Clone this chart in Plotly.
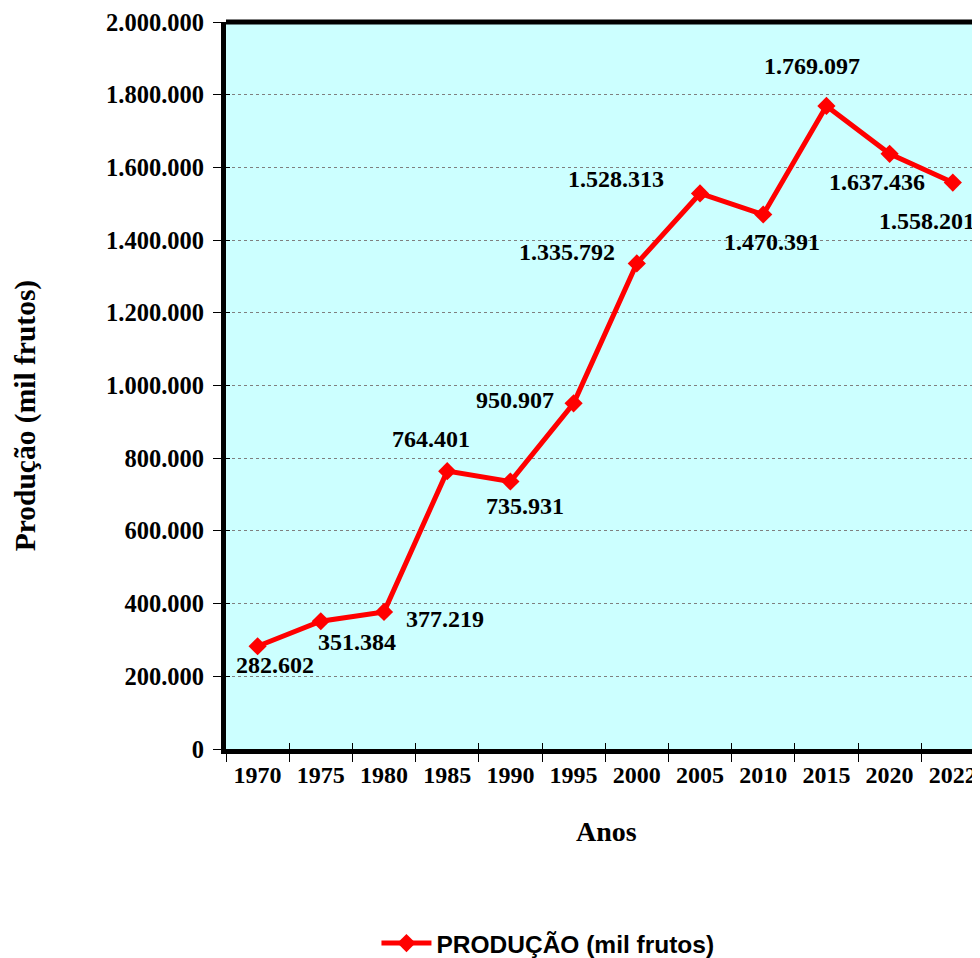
import plotly.graph_objects as go

anos = ["1970", "1975", "1980", "1985", "1990", "1995", "2000", "2005", "2010", "2015", "2020", "2022"]
producao = [282602, 351384, 377219, 764401, 735931, 950907, 1335792, 1528313, 1470391, 1769097, 1637436, 1558201]
rotulos = ["282.602", "351.384", "377.219", "764.401", "735.931", "950.907", "1.335.792",
           "1.528.313", "1.470.391", "1.769.097", "1.637.436", "1.558.201"]
# pixel offsets of each data label relative to its point (style only)
label_dx = [17, 36, 61, -16, 15, -59, -70, -84, 9, -14, -13, -26]
label_dy = [-19, -21, -7, 32, -25, 3, 11, 14, -27, 40, -28, -38]

serif = "Liberation Serif, Times New Roman, serif"
sans = "Liberation Sans, Arial, sans-serif"

fig = go.Figure()
fig.add_trace(go.Scatter(
    x=anos, y=producao, mode="lines+markers", name="PRODUÇÃO (mil frutos)",
    line=dict(color="#FF0000", width=5),
    marker=dict(symbol="diamond", size=14, color="#FF0000"),
    hoverinfo="x+y",
))
# invisible helper trace to carry the inside tick marks axes
fig.add_trace(go.Scatter(
    x=anos, y=producao, xaxis="x2", yaxis="y2", mode="lines",
    line=dict(width=0, color="rgba(0,0,0,0)"), showlegend=False, hoverinfo="skip",
))

for i, (v, t, dx, dy) in enumerate(zip(producao, rotulos, label_dx, label_dy)):
    fig.add_annotation(x=i, y=v, xref="x", yref="y", text=t, showarrow=False,
                       xshift=dx, yshift=dy,
                       font=dict(family=serif, size=24, color="black", weight="bold"))

fig.add_annotation(x=0.505, y=-0.114, xref="paper", yref="paper", text="Anos",
                   showarrow=False, xanchor="center", yanchor="middle",
                   font=dict(family=serif, size=28, color="black", weight="bold"))
fig.add_annotation(x=-0.2666, y=0.459, xref="paper", yref="paper", text="Produção (mil frutos)",
                   showarrow=False, textangle=-90, xanchor="center", yanchor="middle",
                   font=dict(family=serif, size=29.5, color="black", weight="bold"))

# top border
fig.add_shape(type="line", xref="paper", yref="paper", x0=0, x1=1, y0=1, y1=1,
              line=dict(color="black", width=5))

xrange = [-0.5, 11.43]
fig.update_layout(
    width=972, height=958,
    margin=dict(l=218, r=0, t=14, b=217, autoexpand=False),
    paper_bgcolor="white", plot_bgcolor="#CCFFFF",
    separators=",.",
    showlegend=True,
    legend=dict(x=0.427, y=-0.267, xanchor="center", yanchor="middle",
                orientation="h", bgcolor="rgba(0,0,0,0)", itemwidth=50,
                font=dict(family=sans, size=24.5, color="black", weight="bold")),
    xaxis=dict(type="category", range=xrange, tickson="boundaries", automargin=False,
               ticks="outside", ticklen=8, tickwidth=1, tickcolor="black",
               showline=True, linecolor="black", linewidth=5, showgrid=False,
               tickfont=dict(family=serif, size=24, color="black", weight="bold")),
    yaxis=dict(range=[0, 2000000], dtick=200000, tickformat=",d", automargin=False,
               ticks="outside", ticklen=8, tickwidth=1, tickcolor="black",
               showline=True, linecolor="black", linewidth=5,
               showgrid=True, gridcolor="#7f7f7f", gridwidth=1, griddash="dot",
               zeroline=False, ticklabelstandoff=4,
               tickfont=dict(family=serif, size=24.5, color="black", weight="bold")),
    xaxis2=dict(type="category", range=xrange, overlaying="x", tickson="boundaries",
                ticks="inside", ticklen=6, tickwidth=1, tickcolor="black", automargin=False,
                showticklabels=False, showgrid=False, showline=False, anchor="y2"),
    yaxis2=dict(range=[0, 2000000], dtick=200000, overlaying="y", side="left",
                ticks="inside", ticklen=4, tickwidth=1, tickcolor="black", automargin=False,
                showticklabels=False, showgrid=False, showline=False, zeroline=False,
                anchor="x2"),
)

fig.write_html("out.html")
